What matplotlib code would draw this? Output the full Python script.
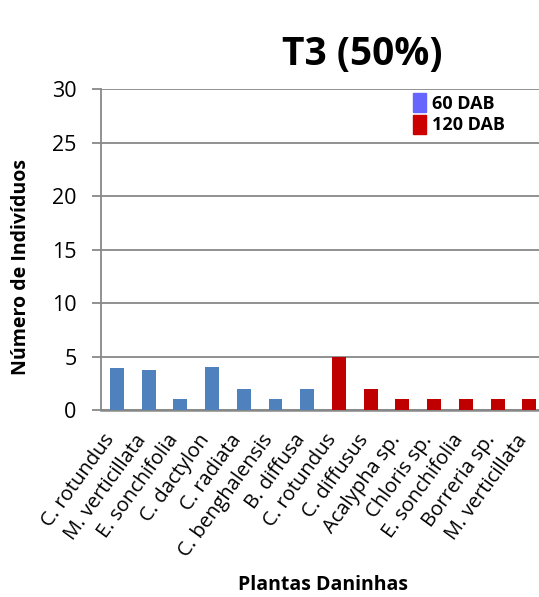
import matplotlib
matplotlib.use('Agg')
import matplotlib.pyplot as plt
from matplotlib.patches import Patch
from matplotlib.transforms import ScaledTranslation

plt.rcParams['font.family'] = ['Open Sans', 'DejaVu Sans']

# data
plantas_60 = ['C. rotundus', 'M. verticillata', 'E. sonchifolia', 'C. dactylon',
              'C. radiata', 'C. benghalensis', 'B. diffusa']
valores_60 = [3.9, 3.7, 1, 4.0, 2, 1, 2]
plantas_120 = ['C. rotundus', 'C. diffusus', 'Acalypha sp.', 'Chloris sp.',
               'E. sonchifolia', 'Borreria sp.', 'M. verticillata']
valores_120 = [5, 2, 1, 1, 1, 1, 1]
y_ticks = [0, 5, 10, 15, 20, 25, 30]

fig = plt.figure(figsize=(5.39, 5.97), dpi=100)
ax = fig.add_axes([0.1874, 0.3132, 0.824, 0.5377])

x60 = list(range(len(plantas_60)))
x120 = list(range(len(plantas_60), len(plantas_60) + len(plantas_120)))
ax.bar(x60, valores_60, width=0.44, color='#4F81BD', zorder=3)
ax.bar(x120, valores_120, width=0.44, color='#C00000', zorder=3)

ax.set_xlim(-0.5, 13.5)
ax.set_ylim(0, 30)
ax.set_yticks(y_ticks)
ax.tick_params(axis='y', labelsize=15.5, length=6.5, width=1.3,
               color='#888888', pad=11)
ax.set_xticks(x60 + x120)
ax.set_xticklabels(plantas_60 + plantas_120, rotation=54, ha='right',
                   va='center', rotation_mode='anchor', fontsize=14.5)
ax.tick_params(axis='x', length=0, pad=19)
shift = ScaledTranslation(-6 / 100, 0, fig.dpi_scale_trans)
for lab in ax.get_xticklabels():
    lab.set_transform(lab.get_transform() + shift)
ax.yaxis.grid(True, color='#888888', linewidth=1.3, zorder=0)
for s in ['top', 'right']:
    ax.spines[s].set_visible(False)
ax.spines['left'].set_color('#888888')
ax.spines['left'].set_linewidth(1.3)
ax.spines['bottom'].set_color('#888888')
ax.spines['bottom'].set_linewidth(1.8)

fig.text(362 / 539, 1 - 55 / 597, 'T3 (50%)', fontsize=28, fontweight='bold',
         ha='center', va='center')
fig.text(21 / 539, 1 - 267 / 597, 'Número de Indivíduos', fontsize=14,
         fontweight='bold', rotation=90, ha='center', va='center')
fig.text(323 / 539, 1 - 590 / 597, 'Plantas Daninhas', fontsize=14,
         fontweight='bold', ha='center', va='baseline')

handles = [Patch(color='#6666FF', label='60 DAB'),
           Patch(color='#CC0000', label='120 DAB')]
leg = ax.legend(handles=handles, loc='upper left',
                bbox_to_anchor=(0.703, 0.9875), frameon=False,
                borderaxespad=0, borderpad=0,
                handlelength=0.72, handleheight=1.28,
                handletextpad=0.3, labelspacing=0.1,
                prop={'weight': 'bold', 'size': 13})

fig.savefig('out.png', dpi=100)
